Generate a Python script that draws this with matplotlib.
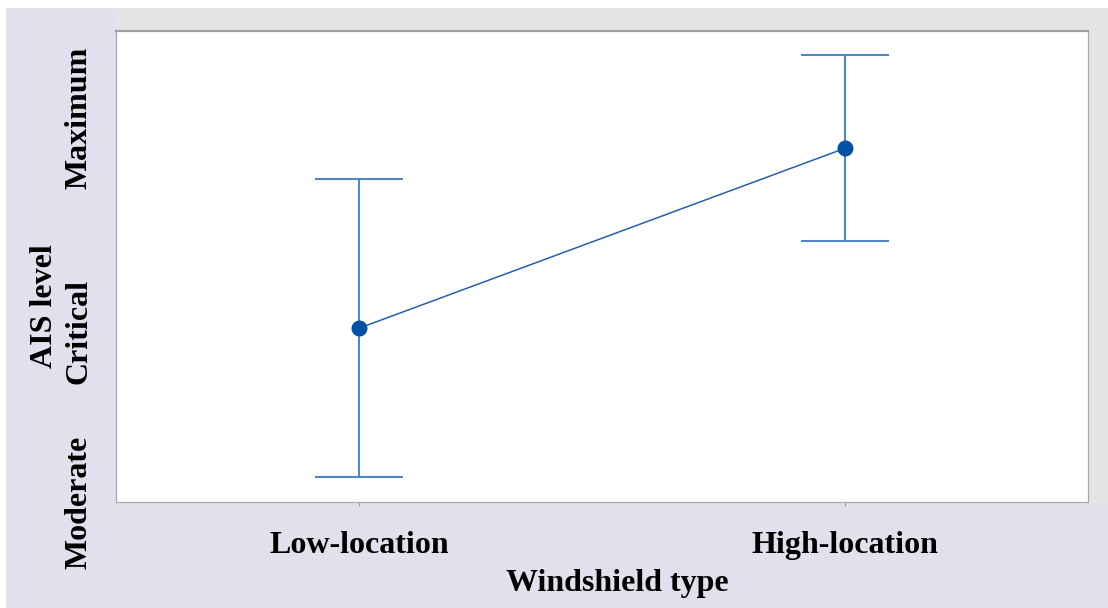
import matplotlib.pyplot as plt
from matplotlib.patches import Rectangle

# data (AIS level on a 0-100 plotting scale)
categories = ["Low-location", "High-location"]
means = [36.9, 75.1]
ci_low = [5.3, 55.4]
ci_high = [68.6, 94.8]
level_ticks = [0, 36.1, 81.5]
level_labels = ["Moderate", "Critical", "Maximum"]

W, H = 1108, 608
fig = plt.figure(figsize=(W / 100, H / 100), dpi=100)
fig.patch.set_facecolor("white")

# background panels
fig.patches.append(Rectangle((6 / W, 0), 1 - 6 / W, 1 - 8 / H, transform=fig.transFigure,
                             facecolor="#E4DFEC", edgecolor="none", zorder=-2))
fig.patches.append(Rectangle((116 / W, 103 / H), 1 - 116 / W, (608 - 103 - 9) / H,
                             transform=fig.transFigure, facecolor="#E4E4E4",
                             edgecolor="none", zorder=-1))

ax = fig.add_axes([116 / W, 106 / H, 972 / W, 471 / H])
ax.set_facecolor("white")

x = list(range(len(categories)))
yerr = [[m - l for m, l in zip(means, ci_low)], [h - m for m, h in zip(means, ci_high)]]

ax.errorbar(x, means, yerr=yerr, fmt="none", ecolor="#4F86C6", elinewidth=1.5,
            capsize=32, capthick=1.5, zorder=2)
ax.plot(x, means, color="#2660AC", lw=1.1, zorder=3)
ax.plot(x, means, "o", color="#0052A5", ms=10.5, zorder=4)

ax.set_xlim(-0.5, 1.5)
ax.set_ylim(0, 100)

font = dict(family="Liberation Serif", weight="bold", size=23)
ax.set_xticks(x)
ax.set_xticklabels(categories, **font)
ax.tick_params(axis="x", length=3, width=0.8, color="#a0a0a0", pad=18)
ax.set_yticks(level_ticks)
ax.set_yticklabels(level_labels, rotation=90, va="center", **font)
ax.tick_params(axis="y", length=0, pad=16)

for s in ax.spines.values():
    s.set_color("#a8a8a8")
    s.set_linewidth(0.9)
ax.spines["top"].set_linewidth(1.6)
ax.spines["top"].set_color("#9e9e9e")

fig.text(617 / W, 1 - 583 / H, "Windshield type", ha="center", va="center", **font)
fig.text(44 / W, 1 - 306 / H, "AIS level", ha="center", va="center", rotation=90, **font)

fig.savefig("out.png", dpi=100)
